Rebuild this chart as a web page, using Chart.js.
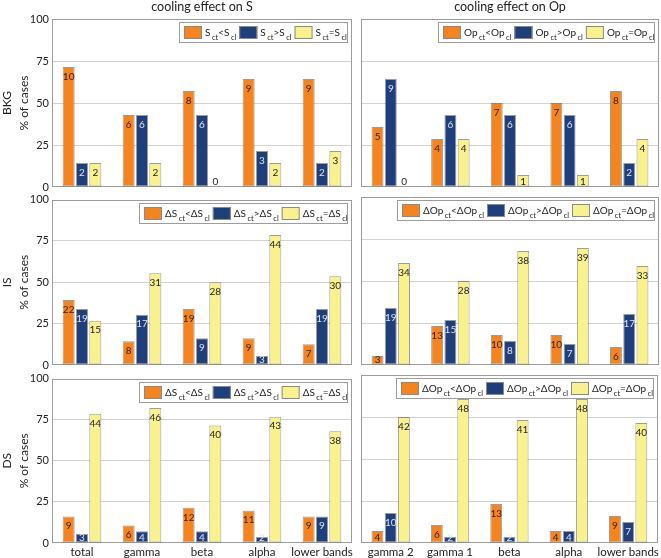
<!DOCTYPE html>
<html>
<head>
<meta charset="utf-8">
<script src="https://cdn.jsdelivr.net/npm/chart.js@4.4.1/dist/chart.umd.min.js"></script>
<style>
  body { margin: 0; background: #fff; }
  #wrap { position: relative; width: 661px; height: 558px; overflow: hidden; }
  #wrap canvas { position: absolute; }
</style>
</head>
<body>
<div id="wrap"></div>
<script>
// categories
const catsS = ['total', 'gamma', 'beta', 'alpha', 'lower bands'];
const catsOp = ['gamma 2', 'gamma 1', 'beta', 'alpha', 'lower bands'];

// % of cases (bar heights) and number of cases (bar labels)
// BKG, cooling effect on S
const bkgSLt = [71.4, 42.9, 57.1, 64.3, 64.3];
const bkgSGt = [14.3, 42.9, 42.9, 21.4, 14.3];
const bkgSEq = [14.3, 14.3, 0, 14.3, 21.4];
const bkgSLtN = [10, 6, 8, 9, 9];
const bkgSGtN = [2, 6, 6, 3, 2];
const bkgSEqN = [2, 2, 0, 2, 3];
// BKG, cooling effect on Op
const bkgOpLt = [35.7, 28.6, 50.0, 50.0, 57.1];
const bkgOpGt = [64.3, 42.9, 42.9, 42.9, 14.3];
const bkgOpEq = [0, 28.6, 7.1, 7.1, 28.6];
const bkgOpLtN = [5, 4, 7, 7, 8];
const bkgOpGtN = [9, 6, 6, 6, 2];
const bkgOpEqN = [0, 4, 1, 1, 4];
// IS, S
const isSLt = [39.3, 14.3, 33.9, 16.1, 12.5];
const isSGt = [33.9, 30.4, 16.1, 5.4, 33.9];
const isSEq = [26.8, 55.4, 50.0, 78.6, 53.6];
const isSLtN = [22, 8, 19, 9, 7];
const isSGtN = [19, 17, 9, 3, 19];
const isSEqN = [15, 31, 28, 44, 30];
// IS, Op
const isOpLt = [5.4, 23.2, 17.9, 17.9, 10.7];
const isOpGt = [33.9, 26.8, 14.3, 12.5, 30.4];
const isOpEq = [60.7, 50.0, 67.9, 69.6, 58.9];
const isOpLtN = [3, 13, 10, 10, 6];
const isOpGtN = [19, 15, 8, 7, 17];
const isOpEqN = [34, 28, 38, 39, 33];
// DS, S
const dsSLt = [16.1, 10.7, 21.4, 19.6, 16.1];
const dsSGt = [5.4, 7.1, 7.1, 3.6, 16.1];
const dsSEq = [78.6, 82.1, 71.4, 76.8, 67.9];
const dsSLtN = [9, 6, 12, 11, 9];
const dsSGtN = [3, 4, 4, 2, 9];
const dsSEqN = [44, 46, 40, 43, 38];
// DS, Op
const dsOpLt = [7.1, 10.7, 23.2, 7.1, 16.1];
const dsOpGt = [17.9, 3.6, 3.6, 7.1, 12.5];
const dsOpEq = [75.0, 85.7, 73.2, 85.7, 71.4];
const dsOpLtN = [4, 6, 13, 4, 9];
const dsOpGtN = [10, 2, 2, 4, 7];
const dsOpEqN = [42, 48, 41, 48, 40];

const yTicks = [0, 25, 50, 75, 100];

const colors = ['#f5841f', '#1f3f7c', '#f9f28c'];
const labelColors = ['#3a1d05', '#dde4f2', '#222222'];
const FONT = 'Lato, "Noto Sans", sans-serif';
Chart.defaults.font.family = FONT;

function legendItems(sym) {
  return ['<', '>', '='].map(op => [[sym, 0], ['ct', 1], [op + sym, 0], ['cl', 1]]);
}

const panels = [
  { cats: catsS, pct: [bkgSLt, bkgSGt, bkgSEq], n: [bkgSLtN, bkgSGtN, bkgSEqN], sym: 'S', row: 0, col: 0, rowName: 'BKG', title: 'cooling effect on S' },
  { cats: catsOp, pct: [bkgOpLt, bkgOpGt, bkgOpEq], n: [bkgOpLtN, bkgOpGtN, bkgOpEqN], sym: 'Op', row: 0, col: 1, title: 'cooling effect on Op' },
  { cats: catsS, pct: [isSLt, isSGt, isSEq], n: [isSLtN, isSGtN, isSEqN], sym: '\u0394S', row: 1, col: 0, rowName: 'IS' },
  { cats: catsOp, pct: [isOpLt, isOpGt, isOpEq], n: [isOpLtN, isOpGtN, isOpEqN], sym: '\u0394Op', row: 1, col: 1 },
  { cats: catsS, pct: [dsSLt, dsSGt, dsSEq], n: [dsSLtN, dsSGtN, dsSEqN], sym: '\u0394S', row: 2, col: 0, rowName: 'DS' },
  { cats: catsOp, pct: [dsOpLt, dsOpGt, dsOpEq], n: [dsOpLtN, dsOpGtN, dsOpEqN], sym: '\u0394Op', row: 2, col: 1 }
];

// canvas boxes: [top, height, padTop, padBottom] per row, [left, width, yWidth, padRight] per col
// rows 1-2 reach a little into the next row so the "0" tick label has room
const rowBox = [[0, 199, 19, 12], [190, 188, 7, 13], [369, 189, 6, 0]];
const colBox = [[0, 356, 52, 4], [356, 305, 5, 2]];

const panelDeco = {
  id: 'panelDeco',
  beforeDatasetsDraw(chart) {
    const a = chart.chartArea, ctx = chart.ctx;
    ctx.save();
    ctx.strokeStyle = '#9c9c9c';
    ctx.lineWidth = 1;
    ctx.strokeRect(Math.round(a.left) + 0.5, Math.round(a.top) + 0.5,
      Math.round(a.right - a.left) - 1, Math.round(a.bottom - a.top) - 1);
    ctx.restore();
  },
  afterDatasetsDraw(chart, args, opts) {
    const ctx = chart.ctx, a = chart.chartArea;
    ctx.save();
    // counts on bars
    ctx.font = '10px ' + FONT;
    ctx.textAlign = 'center';
    ctx.textBaseline = 'middle';
    chart.data.datasets.forEach((ds, i) => {
      chart.getDatasetMeta(i).data.forEach((el, j) => {
        const y = Math.min(el.y + 9.5, el.base - 5);
        ctx.fillStyle = labelColors[i];
        ctx.fillText(String(opts.counts[i][j]), el.x, y);
      });
    });
    // legend box with subscripts
    const mainFont = '10px ' + FONT, subFont = '7.5px ' + FONT;
    const sw = 18, sh = 13, gap = 3;
    const widths = opts.legend.map(parts => parts.reduce((w, p) => {
      ctx.font = p[1] ? subFont : mainFont;
      return w + ctx.measureText(p[0]).width + (p[1] ? 1.5 : 0);
    }, 0));
    const boxW = widths.reduce((s, w) => s + sw + gap + w + 3, 0) + 3;
    const boxH = 21;
    const bx = Math.round(a.right - 4 - boxW), by = Math.round(a.top + 3);
    ctx.fillStyle = '#fff';
    ctx.fillRect(bx, by, boxW, boxH);
    ctx.strokeStyle = '#9c9c9c';
    ctx.strokeRect(bx + 0.5, by + 0.5, Math.round(boxW) - 1, boxH - 1);
    let x = bx + 5;
    ctx.textAlign = 'left';
    ctx.textBaseline = 'alphabetic';
    opts.legend.forEach((parts, i) => {
      ctx.fillStyle = colors[i];
      ctx.fillRect(x, by + 4, sw, sh);
      ctx.strokeStyle = '#8a8a8a';
      ctx.strokeRect(x + 0.5, by + 4.5, sw - 1, sh - 1);
      x += sw + gap;
      ctx.fillStyle = '#222';
      parts.forEach(p => {
        if (p[1]) {
          ctx.font = subFont;
          x += 1.5;
          ctx.fillText(p[0], x, by + 18);
        } else {
          ctx.font = mainFont;
          ctx.fillText(p[0], x, by + 14);
        }
        x += ctx.measureText(p[0]).width;
      });
      x += 3;
    });
    ctx.restore();
  },
  afterDraw(chart, args, opts) {
    const ctx = chart.ctx, a = chart.chartArea;
    ctx.save();
    ctx.fillStyle = '#222';
    ctx.textAlign = 'center';
    ctx.textBaseline = 'middle';
    if (opts.title) {
      ctx.font = '12.5px ' + FONT;
      ctx.fillText(opts.title, (a.left + a.right) / 2, 7);
    }
    if (opts.rowName) {
      const cy = (a.top + a.bottom) / 2;
      ctx.font = '12px ' + FONT;
      ctx.translate(7, cy);
      ctx.rotate(-Math.PI / 2);
      ctx.fillText(opts.rowName, 0, 0);
      ctx.rotate(Math.PI / 2);
      ctx.translate(17, 0);
      ctx.rotate(-Math.PI / 2);
      ctx.fillText('% of cases', 0, 0);
    }
    ctx.restore();
  }
};

const wrap = document.getElementById('wrap');
panels.forEach(p => {
  const [top, h, padTop, padBottom] = rowBox[p.row];
  const [left, w, yWidth, padRight] = colBox[p.col];
  const canvas = document.createElement('canvas');
  canvas.width = w;
  canvas.height = h;
  canvas.style.left = left + 'px';
  canvas.style.top = top + 'px';
  wrap.appendChild(canvas);
  const bottomRow = p.row === 2;
  const leftCol = p.col === 0;

  new Chart(canvas.getContext('2d'), {
    type: 'bar',
    data: {
      labels: p.cats,
      datasets: p.pct.map((vals, i) => ({
        data: vals,
        backgroundColor: colors[i],
        borderColor: 'rgba(90,90,90,0.6)',
        borderWidth: 1,
        borderSkipped: false
      }))
    },
    options: {
      responsive: false,
      animation: false,
      events: [],
      layout: { autoPadding: false, padding: { top: padTop, bottom: padBottom, left: 0, right: padRight } },
      datasets: { bar: { categoryPercentage: 0.667, barPercentage: 0.9 } },
      plugins: {
        legend: { display: false },
        tooltip: { enabled: false },
        panelDeco: {
          counts: p.n,
          legend: legendItems(p.sym),
          title: p.title,
          rowName: p.rowName
        }
      },
      scales: {
        x: {
          grid: { display: false, drawTicks: false },
          border: { display: false },
          ticks: { display: bottomRow, color: '#222', font: { size: 11.5 }, padding: 2, maxRotation: 0, autoSkip: false },
          afterFit(s) { s.height = bottomRow ? 15 : 0; }
        },
        y: {
          min: 0,
          max: 100,
          afterBuildTicks(s) { s.ticks = yTicks.map(v => ({ value: v })); },
          grid: {
            drawTicks: false,
            color: c => (c.tick && (c.tick.value === 0 || c.tick.value === 100)) ? 'rgba(0,0,0,0)' : '#d2d2d2'
          },
          border: { display: false },
          ticks: { display: leftCol, color: '#222', font: { size: 11 }, padding: 3 },
          afterFit(s) { s.width = yWidth; }
        }
      }
    },
    plugins: [panelDeco]
  });
});
</script>
</body>
</html>
